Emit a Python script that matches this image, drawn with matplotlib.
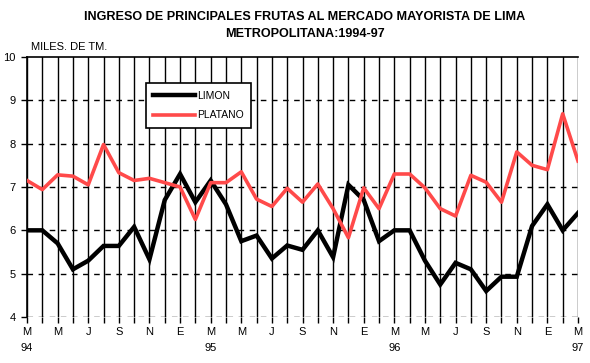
import matplotlib
matplotlib.use("Agg")
import matplotlib.pyplot as plt
import numpy as np

plt.rcParams['font.family'] = ['Liberation Sans', 'DejaVu Sans']

# Monthly data, March 1994 .. March 1997 (thousand tonnes)
limon = [6.0, 6.0, 5.7, 5.1, 5.3, 5.64, 5.64, 6.08, 5.33, 6.7, 7.3, 6.65,
         7.15, 6.6, 5.75, 5.88, 5.35, 5.65, 5.55, 6.0, 5.38, 7.05, 6.7,
         5.75, 6.0, 6.0, 5.3, 4.75, 5.25, 5.1, 4.6, 4.93, 4.93, 6.1, 6.6,
         6.0, 6.4]
platano = [7.15, 6.94, 7.28, 7.25, 7.05, 7.98, 7.33, 7.15, 7.2, 7.1, 7.0, 6.25,
           7.1, 7.1, 7.35, 6.72, 6.55, 6.97, 6.65, 7.07, 6.5, 5.83, 6.98,
           6.5, 7.3, 7.3, 6.98, 6.5, 6.33, 7.27, 7.11, 6.65, 7.81, 7.5, 7.4,
           8.69, 7.6]
month_labels = ["M", "M", "J", "S", "N", "E", "M", "M", "J", "S", "N", "E",
                "M", "M", "J", "S", "N", "E", "M"]
year_labels = ["94", "95", "96", "97"]
series_names = ["LIMON", "PLATANO"]
title = "INGRESO DE PRINCIPALES FRUTAS AL MERCADO MAYORISTA DE LIMA\nMETROPOLITANA:1994-97"
unit_label = "MILES. DE TM."

x = np.arange(len(limon))

fig = plt.figure(figsize=(5.9, 3.63), dpi=100)
ax = fig.add_axes([27/590, 46/363, 551/590, 260/363])

# grid: solid vertical lines every month, dashed horizontals
for xi in x:
    ax.axvline(xi, color='black', lw=1.0, zorder=1)
for yv in range(4, 10):
    ax.axhline(yv, color='black', lw=1.0, ls=(0, (4, 4)), zorder=1)

ax.plot(x, limon, color='black', lw=3.2, zorder=3, label=series_names[0],
        solid_joinstyle='miter')
ax.plot(x, platano, color='#ff4a4a', lw=2.6, zorder=3, label=series_names[1])

ax.set_xlim(0, len(x) - 1)
ax.set_ylim(4, 10)
for s in ['bottom', 'right']:
    ax.spines[s].set_visible(False)
ax.spines['top'].set_linewidth(1.2)
ax.spines['left'].set_linewidth(1.2)

ax.set_yticks(range(4, 11))
ax.tick_params(axis='y', length=4, width=1, labelsize=8, pad=4)
ax.set_xticks(x)
ax.set_xticklabels([])
ax.tick_params(axis='x', length=4, width=1, direction='out')

label_pos = x[::2]
for xi, lab in zip(label_pos, month_labels):
    ax.text(xi, -0.04, lab, transform=ax.get_xaxis_transform(), ha='center',
            va='top', fontsize=8)
year_pos = x[::12]
for xi, lab in zip(year_pos, year_labels):
    ax.text(xi, -0.10, lab, transform=ax.get_xaxis_transform(), ha='center',
            va='top', fontsize=8)

fig.text(31/590, 1 - 50/363, unit_label, fontsize=8, ha='left', va='baseline')
fig.text(305/590, 1 - 11/363, title, fontsize=9.1, fontweight='bold',
         ha='center', va='top', linespacing=1.55)

leg = ax.legend(loc='upper left', bbox_to_anchor=((145.7 - 27) / 551, (317 - 83.3) / 260),
                frameon=True, fancybox=False, edgecolor='black', framealpha=1,
                fontsize=7.5, handlelength=4.0, borderpad=0.7, labelspacing=0.95,
                handletextpad=0.2, borderaxespad=0)
leg.get_frame().set_linewidth(1.2)

fig.savefig("out.png", dpi=100)
